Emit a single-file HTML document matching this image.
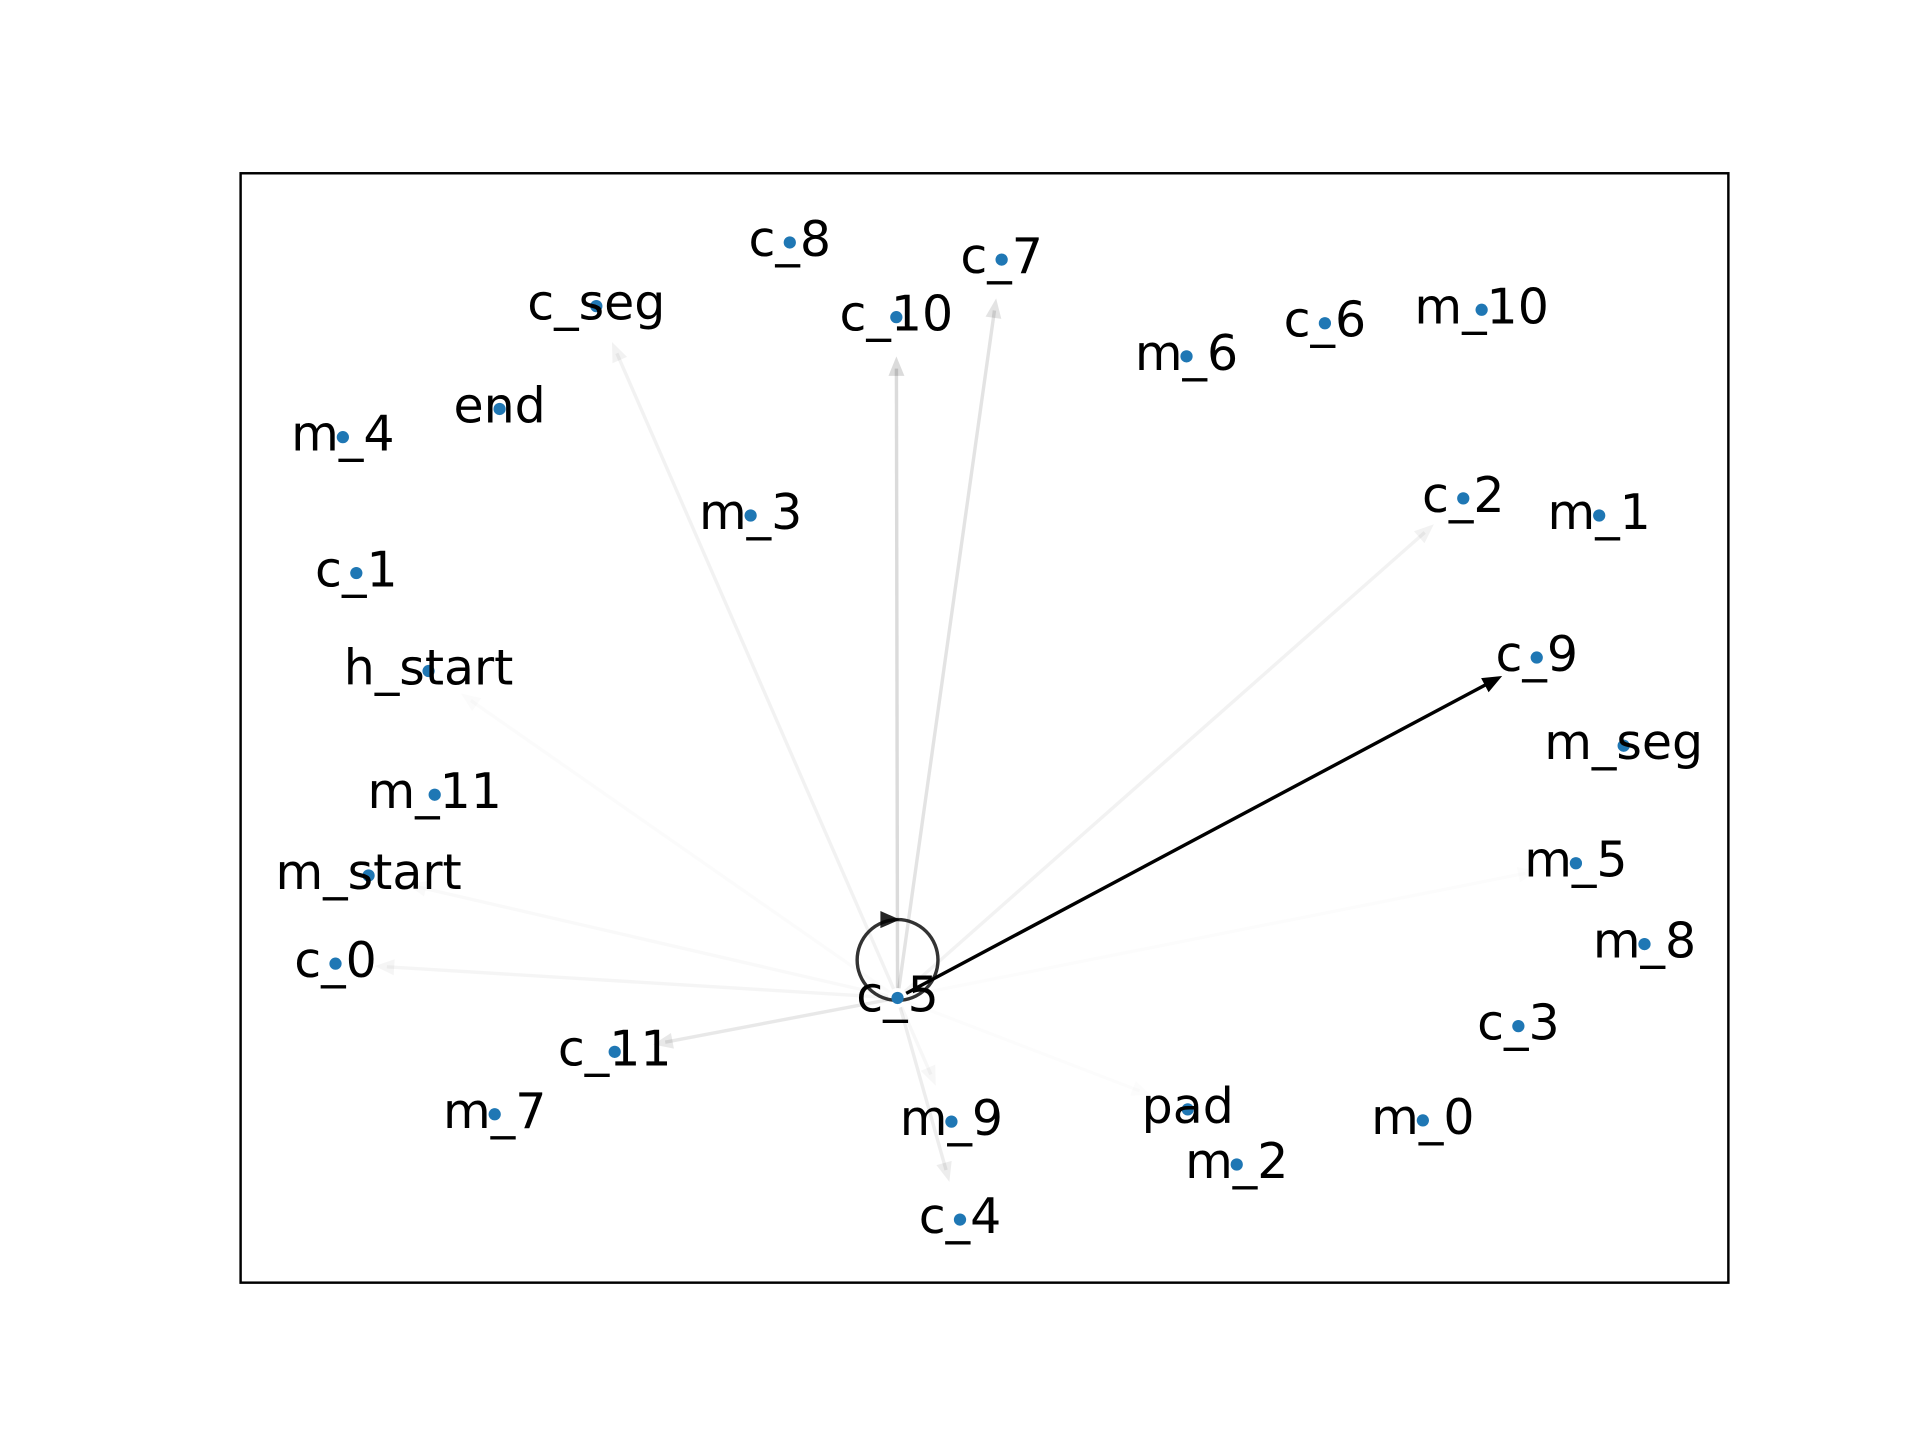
<!DOCTYPE html>
<html><head><meta charset="utf-8"><style>
html,body{margin:0;padding:0;background:#fff}
svg{display:block}
text{font-family:"DejaVu Sans","Liberation Sans",sans-serif;font-size:40px;fill:#000}
</style></head><body>
<svg id="chart" width="1920" height="1440" viewBox="0 0 1568 1176" xmlns="http://www.w3.org/2000/svg">
<rect x="196.5" y="141.5" width="1215" height="906" fill="none" stroke="#000" stroke-width="2"/>
<g id="edges"></g><g id="nodes"></g>
</svg>
<script>
const nodeNames=["c_8","c_7","c_seg","c_10","m_6","c_6","m_10","end","m_4","m_3","c_2","m_1","c_1","h_start","c_9","m_seg","m_11","m_start","m_5","m_8","c_0","c_5","c_3","c_11","m_7","pad","m_0","m_9","m_2","c_4"];
const nodeX=[645,818,487,732,969,1082,1210,408,280,613,1195,1306,291,350,1255,1326,355,301,1287,1343,274,733,1240,502,404,970,1162,777,1010,784];
const nodeY=[198,212,250,259,291,264,253,334,357,421,407,421,468,548,537,609,649,715,705,771,787,815,838,859,910,906,915,916,951,996];
const edgeSource="c_5";
const edgeTargets=["c_9","c_10","c_7","c_seg","c_2","c_0","c_11","c_4","m_start","h_start","m_9","m_5","pad"];
const edgeAlpha=[1,0.14,0.11,0.05,0.05,0.04,0.09,0.07,0.025,0.015,0.03,0.01,0.01];
const NS="http://www.w3.org/2000/svg";
const eg=document.getElementById('edges'),ng=document.getElementById('nodes');
const idx=n=>nodeNames.indexOf(n);
const s=idx(edgeSource);
edgeTargets.forEach((t,i)=>{
  const j=idx(t);
  const x0=nodeX[s],y0=nodeY[s],x1=nodeX[j],y1=nodeY[j];
  const dx=x1-x0,dy=y1-y0,L=Math.hypot(dx,dy),ux=dx/L,uy=dy/L;
  const ex=x1-ux*32,ey=y1-uy*32;
  const c=`rgba(0,0,0,${edgeAlpha[i]})`;
  const ln=document.createElementNS(NS,'line');
  
  
  ln.setAttribute('x1',x0+ux*8);ln.setAttribute('y1',y0+uy*8);
  ln.setAttribute('x2',ex-ux*10);ln.setAttribute('y2',ey-uy*10);
  ln.setAttribute('stroke',c);ln.setAttribute('stroke-width',2.8);
  eg.appendChild(ln);
  const px=-uy,py=ux;
  const ar=document.createElementNS(NS,'polygon');
  
  
  ar.setAttribute('points',`${ex},${ey} ${ex-ux*16+px*6.5},${ey-uy*16+py*6.5} ${ex-ux*16-px*6.5},${ey-uy*16-py*6.5}`);
  ar.setAttribute('fill',c);
  eg.appendChild(ar);
});
const loop=document.createElementNS(NS,'circle');


loop.setAttribute('cx',nodeX[s]);loop.setAttribute('cy',nodeY[s]-31);loop.setAttribute('r',33);
loop.setAttribute('fill','none');loop.setAttribute('stroke','rgba(0,0,0,0.8)');loop.setAttribute('stroke-width',2.8);
eg.appendChild(loop);
const la=document.createElementNS(NS,'polygon');


const lx=nodeX[s],ly=nodeY[s]-64;
la.setAttribute('points',`${lx+2},${ly} ${lx-14},${ly-7} ${lx-14},${ly+7}`);
la.setAttribute('fill','rgba(0,0,0,0.85)');
eg.appendChild(la);
nodeNames.forEach((n,i)=>{
  const c=document.createElementNS(NS,'circle');
  
  
  c.setAttribute('cx',nodeX[i]);c.setAttribute('cy',nodeY[i]);c.setAttribute('r',5);c.setAttribute('fill','#1f77b4');
  ng.appendChild(c);
  const t=document.createElementNS(NS,'text');
  
  
  t.setAttribute('x',nodeX[i]);t.setAttribute('y',nodeY[i]+11);t.setAttribute('text-anchor','middle');
  t.textContent=n;
  ng.appendChild(t);
});
</script>
</body></html>
